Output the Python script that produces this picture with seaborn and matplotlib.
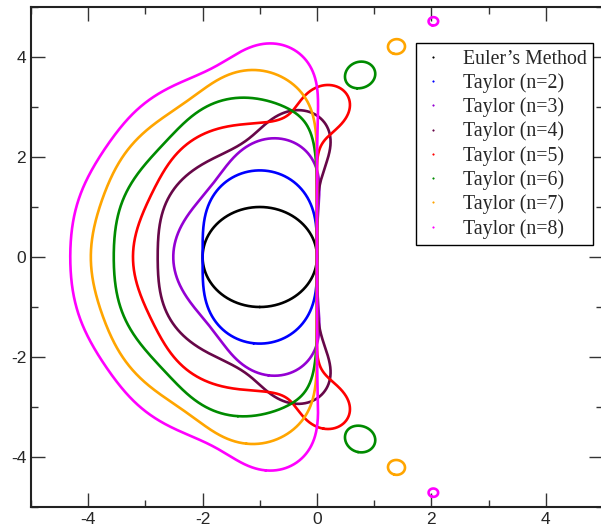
import numpy as np
import matplotlib
matplotlib.use("Agg")
import matplotlib.pyplot as plt
from matplotlib.lines import Line2D
from math import factorial
import seaborn as sns
import contourpy

# Series: order of the Taylor method (1 = Euler) and their labels/colours
orders = [1, 2, 3, 4, 5, 6, 7, 8]
labels = ["Euler\u2019s Method", "Taylor (n=2)", "Taylor (n=3)", "Taylor (n=4)",
          "Taylor (n=5)", "Taylor (n=6)", "Taylor (n=7)", "Taylor (n=8)"]
colors = ["#000000", "#0000ff", "#9400d3", "#670748",
          "#ff0000", "#008b00", "#ffa500", "#ff00ff"]
xticks = [-4, -2, 0, 2, 4]
yticks = [-4, -2, 0, 2, 4]

sns.set_style("ticks")
plt.rcParams["font.family"] = ["Liberation Sans", "DejaVu Sans"]
plt.rcParams["axes.unicode_minus"] = False

fig = plt.figure(figsize=(6.01, 5.29), dpi=100)
ax = fig.add_axes([31 / 601, 22 / 529, (603 - 31) / 601, (507 - 7) / 529])

# stability boundary |sum_{k<=n} z^k/k!| = 1
gx = np.linspace(-5, 5, 1201)
gy = np.linspace(-5, 5, 1201)
X, Y = np.meshgrid(gx, gy)
Z = X + 1j * Y
for n, col in zip(orders, colors):
    T = np.zeros_like(Z)
    for k in range(n + 1):
        T = T + Z ** k / factorial(k)
    gen = contourpy.contour_generator(gx, gy, np.abs(T))
    for seg in gen.lines(1.0):
        sns.lineplot(x=seg[:, 0], y=seg[:, 1], sort=False, estimator=None,
                     color=col, linewidth=1.9, ax=ax)

ax.set_xlim(-5, 5)
ax.set_ylim(-5, 5)
ax.set_xticks(xticks)
ax.set_yticks(yticks)
ax.set_xticks([-5, -3, -1, 1, 3, 5], minor=True)
ax.set_yticks([-5, -3, -1, 1, 3, 5], minor=True)
ax.tick_params(which="both", direction="in", top=True, right=True,
               labelsize=12.5, width=1, color="#333333")
ax.tick_params(which="major", length=10)
ax.tick_params(which="minor", length=5)
for s in ax.spines.values():
    s.set_linewidth(1.5)
    s.set_color("#222222")
ax.set_xlabel("")
ax.set_ylabel("")

handles = [Line2D([], [], linestyle="none", marker="o", markersize=1.0,
                  markeredgewidth=0.5, color=c) for c in colors]
leg = fig.legend(handles, labels, loc="upper right",
                 bbox_to_anchor=(593 / 601, 1 - 43 / 529),
                 borderaxespad=0, frameon=True, fancybox=False,
                 edgecolor="black", framealpha=1,
                 prop={"family": "Liberation Serif", "size": 14.3},
                 handlelength=1.0, handletextpad=1.0, labelspacing=0.23,
                 borderpad=0.33)
leg.get_frame().set_linewidth(1.0)

fig.savefig("out.png", dpi=100)
